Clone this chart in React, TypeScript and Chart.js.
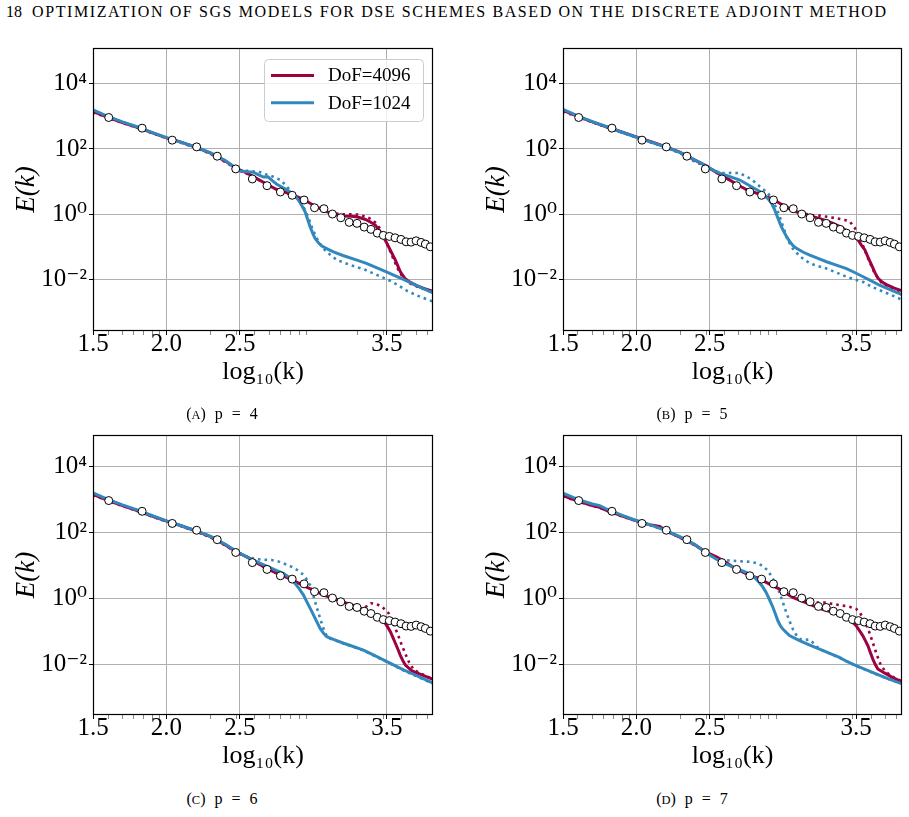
import React, { useEffect, useRef } from 'react';
import { Chart, registerables } from 'chart.js';

Chart.register(...registerables);

const SERIF = '"Liberation Serif", "DejaVu Serif", serif';
const RED = '#9e0142';
const BLUE = '#3288bd';
const GRID = '#b0b0b0';

// ---- axes -----------------------------------------------------------------
const X_MIN = 1.5;
const X_MAX = 3.813;
const X_MAJOR_TICKS = [1.5, 2.0, 2.5, 3.5];
const X_TICK_LABELS = ['1.5', '2.0', '2.5', '3.5'];
// minor ticks of the logarithmic wavenumber axis (k values)
const K_MINOR = [40, 50, 60, 70, 80, 90, 200, 300, 400, 500, 600, 700, 800, 900, 2000, 3000, 4000, 5000, 6000];
const Y_TICKS = [-2, 0, 2, 4];
const Y_TICK_LABELS = ['10⁻²', '10⁰', '10²', '10⁴'];
const Y_RANGE_TOP_ROW = [-3.57, 5.09];
const Y_RANGE_BOTTOM_ROW = [-3.535, 4.95];

const LEGEND_LABELS = ['DoF=4096', 'DoF=1024'];
const CAPTION_LETTERS = ['A', 'B', 'C', 'D'];
const POLY_ORDERS = [4, 5, 6, 7];

// ---- spectra: [log10(k), log10(E)] ----------------------------------------
const REF_SPECTRUM = [
  [1.607, 2.963], [1.834, 2.638], [2.039, 2.27], [2.205, 2.064], [2.345, 1.779], [2.471, 1.39],
  [2.584, 1.083], [2.684, 0.877], [2.775, 0.684], [2.855, 0.583], [2.936, 0.439], [3.007, 0.202],
  [3.071, 0.172], [3.129, 0.009], [3.186, -0.104], [3.243, -0.245], [3.296, -0.276], [3.345, -0.39],
  [3.391, -0.46], [3.434, -0.574], [3.475, -0.644], [3.516, -0.675], [3.555, -0.718], [3.595, -0.767],
  [3.63, -0.84], [3.664, -0.85], [3.698, -0.81], [3.732, -0.859], [3.761, -0.911], [3.795, -0.994],
];

// p = 4
const P4_DOF4096 = [
  [1.5, 3.15], [1.6, 2.97], [1.7, 2.81], [1.8, 2.66], [1.9, 2.5], [2.0, 2.34], [2.1, 2.21], [2.2, 2.05],
  [2.3, 1.87], [2.4, 1.63], [2.47, 1.42], [2.5, 1.35], [2.55, 1.26], [2.6, 1.13], [2.68, 0.93], [2.75, 0.76],
  [2.84, 0.63], [2.93, 0.46], [3.0, 0.28], [3.07, 0.11], [3.14, 0.0], [3.2, -0.05], [3.26, -0.06], [3.3, -0.08],
  [3.35, -0.15], [3.39, -0.24], [3.42, -0.33], [3.454, -0.53], [3.488, -0.79], [3.523, -1.1], [3.557, -1.4],
  [3.591, -1.76], [3.62, -1.95], [3.65, -2.06], [3.704, -2.19], [3.76, -2.28], [3.82, -2.37],
];
const P4_DOF4096_DOT = [
  [1.5, 3.12], [1.6, 2.96], [1.7, 2.8], [1.8, 2.65], [1.9, 2.49], [2.0, 2.33], [2.1, 2.19], [2.2, 2.04],
  [2.3, 1.85], [2.4, 1.6], [2.47, 1.41], [2.5, 1.33], [2.55, 1.24], [2.6, 1.12], [2.68, 0.92], [2.75, 0.76],
  [2.84, 0.62], [2.93, 0.45], [3.0, 0.28], [3.07, 0.12], [3.14, 0.03], [3.2, 0.0], [3.26, 0.0], [3.3, -0.01],
  [3.35, -0.06], [3.39, -0.14], [3.42, -0.25], [3.45, -0.42], [3.48, -0.7], [3.51, -1.0], [3.54, -1.33],
  [3.575, -1.68], [3.61, -1.95], [3.65, -2.1], [3.7, -2.2], [3.76, -2.3], [3.82, -2.4],
];
const P4_DOF1024 = [
  [1.5, 3.2], [1.6, 3.0], [1.7, 2.83], [1.8, 2.68], [1.9, 2.51], [2.0, 2.35], [2.1, 2.2], [2.2, 2.06],
  [2.3, 1.88], [2.4, 1.65], [2.47, 1.42], [2.5, 1.33], [2.55, 1.3], [2.59, 1.29], [2.63, 1.2], [2.66, 1.14],
  [2.69, 1.15], [2.72, 1.03], [2.75, 0.92], [2.8, 0.8], [2.84, 0.69], [2.87, 0.58], [2.897, 0.44], [2.92, 0.27],
  [2.943, 0.08], [2.96, -0.15], [2.977, -0.38], [2.995, -0.58], [3.011, -0.74], [3.035, -0.88], [3.057, -0.97],
  [3.1, -1.07], [3.136, -1.15], [3.2, -1.26], [3.296, -1.4], [3.36, -1.5], [3.432, -1.64], [3.5, -1.77],
  [3.545, -1.86], [3.6, -1.97], [3.659, -2.09], [3.74, -2.26], [3.82, -2.42],
];
const P4_DOF1024_DOT = [
  [1.5, 3.18], [1.6, 2.99], [1.7, 2.82], [1.8, 2.67], [1.9, 2.5], [2.0, 2.34], [2.1, 2.19], [2.2, 2.04],
  [2.3, 1.86], [2.4, 1.63], [2.47, 1.41], [2.52, 1.33], [2.56, 1.33], [2.6, 1.31], [2.627, 1.31], [2.66, 1.24],
  [2.707, 1.19], [2.74, 1.12], [2.775, 1.05], [2.81, 0.9], [2.843, 0.72], [2.88, 0.55], [2.911, 0.39],
  [2.935, 0.2], [2.957, -0.02], [2.975, -0.22], [2.99, -0.41], [3.012, -0.64], [3.036, -0.84], [3.07, -1.06],
  [3.116, -1.25], [3.161, -1.4], [3.25, -1.55], [3.343, -1.68], [3.434, -1.86], [3.525, -2.04], [3.58, -2.18],
  [3.639, -2.35], [3.73, -2.53], [3.82, -2.68],
];

// p = 5
const P5_DOF4096 = [
  [1.5, 3.18], [1.6, 3.0], [1.7, 2.83], [1.8, 2.67], [1.9, 2.52], [2.0, 2.37], [2.1, 2.22], [2.2, 2.07],
  [2.3, 1.9], [2.4, 1.66], [2.48, 1.48], [2.52, 1.36], [2.57, 1.22], [2.62, 1.1], [2.684, 0.92], [2.75, 0.76],
  [2.843, 0.61], [2.934, 0.46], [3.0, 0.28], [3.07, 0.11], [3.14, 0.01], [3.207, -0.07], [3.28, -0.17],
  [3.343, -0.28], [3.4, -0.4], [3.457, -0.58], [3.49, -0.7], [3.514, -0.79], [3.537, -0.95], [3.56, -1.09],
  [3.582, -1.32], [3.605, -1.55], [3.63, -1.8], [3.65, -1.96], [3.68, -2.08], [3.707, -2.15], [3.76, -2.26],
  [3.82, -2.35],
];
const P5_DOF4096_DOT = [
  [1.5, 3.15], [1.6, 2.98], [1.7, 2.82], [1.8, 2.66], [1.9, 2.51], [2.0, 2.36], [2.1, 2.21], [2.2, 2.06],
  [2.3, 1.88], [2.4, 1.62], [2.48, 1.46], [2.52, 1.35], [2.57, 1.21], [2.62, 1.09], [2.684, 0.91], [2.75, 0.76],
  [2.843, 0.62], [2.934, 0.46], [3.0, 0.29], [3.07, 0.12], [3.14, 0.03], [3.2, -0.02], [3.252, -0.04],
  [3.31, -0.08], [3.366, -0.12], [3.42, -0.17], [3.457, -0.22], [3.49, -0.41], [3.536, -0.84], [3.582, -1.35],
  [3.627, -1.81], [3.673, -2.09], [3.74, -2.26], [3.82, -2.39],
];
const P5_DOF1024 = [
  [1.5, 3.21], [1.6, 3.01], [1.7, 2.84], [1.8, 2.68], [1.9, 2.52], [2.0, 2.36], [2.1, 2.21], [2.2, 2.06],
  [2.3, 1.89], [2.4, 1.66], [2.48, 1.48], [2.52, 1.36], [2.57, 1.26], [2.639, 1.155], [2.707, 1.05],
  [2.78, 0.86], [2.843, 0.7], [2.9, 0.47], [2.925, 0.32], [2.945, 0.13], [2.965, -0.1], [2.99, -0.38],
  [3.02, -0.64], [3.048, -0.84], [3.07, -0.96], [3.093, -1.04], [3.14, -1.16], [3.184, -1.25], [3.24, -1.35],
  [3.298, -1.45], [3.37, -1.56], [3.434, -1.66], [3.49, -1.78], [3.548, -1.91], [3.6, -2.03], [3.66, -2.17],
  [3.74, -2.32], [3.82, -2.47],
];
const P5_DOF1024_DOT = [
  [1.5, 3.19], [1.6, 3.0], [1.7, 2.83], [1.8, 2.67], [1.9, 2.51], [2.0, 2.35], [2.1, 2.2], [2.2, 2.05],
  [2.3, 1.87], [2.4, 1.62], [2.48, 1.46], [2.52, 1.35], [2.57, 1.27], [2.616, 1.26], [2.66, 1.27],
  [2.707, 1.26], [2.74, 1.18], [2.775, 1.1], [2.81, 0.98], [2.843, 0.85], [2.87, 0.75], [2.9, 0.64],
  [2.93, 0.42], [2.957, 0.18], [2.975, -0.02], [2.99, -0.22], [3.008, -0.46], [3.025, -0.69], [3.048, -0.9],
  [3.07, -1.06], [3.12, -1.3], [3.184, -1.5], [3.24, -1.58], [3.298, -1.66], [3.37, -1.79], [3.434, -1.91],
  [3.49, -1.99], [3.548, -2.07], [3.6, -2.2], [3.66, -2.32], [3.74, -2.47], [3.82, -2.63],
];

// p = 6
const P6_DOF4096 = [
  [1.5, 3.15], [1.6, 2.97], [1.7, 2.81], [1.8, 2.66], [1.9, 2.49], [2.0, 2.34], [2.1, 2.2], [2.2, 2.04],
  [2.3, 1.87], [2.4, 1.62], [2.48, 1.4], [2.55, 1.25], [2.6, 1.12], [2.68, 0.91], [2.76, 0.74], [2.84, 0.59],
  [2.95, 0.35], [3.07, 0.1], [3.18, -0.08], [3.295, -0.25], [3.386, -0.45], [3.455, -0.63], [3.489, -0.76],
  [3.506, -0.88], [3.523, -1.01], [3.54, -1.18], [3.557, -1.36], [3.575, -1.55], [3.59, -1.72], [3.607, -1.88],
  [3.625, -2.02], [3.67, -2.2], [3.75, -2.34], [3.82, -2.47],
];
const P6_DOF4096_DOT = [
  [1.5, 3.13], [1.6, 2.96], [1.7, 2.8], [1.8, 2.65], [1.9, 2.48], [2.0, 2.33], [2.1, 2.19], [2.2, 2.03],
  [2.3, 1.85], [2.4, 1.6], [2.48, 1.39], [2.55, 1.24], [2.6, 1.11], [2.68, 0.9], [2.76, 0.74], [2.84, 0.6],
  [2.95, 0.36], [3.07, 0.11], [3.18, -0.07], [3.3, -0.25], [3.34, -0.33], [3.37, -0.2], [3.39, -0.15],
  [3.43, -0.17], [3.477, -0.3], [3.511, -0.45], [3.535, -0.65], [3.557, -0.91], [3.58, -1.17], [3.6, -1.41],
  [3.625, -1.68], [3.648, -1.92], [3.682, -2.17], [3.75, -2.32], [3.82, -2.47],
];
const P6_DOF1024 = [
  [1.5, 3.2], [1.6, 3.0], [1.7, 2.83], [1.8, 2.68], [1.9, 2.51], [2.0, 2.35], [2.1, 2.2], [2.2, 2.05],
  [2.3, 1.88], [2.4, 1.64], [2.48, 1.41], [2.55, 1.24], [2.59, 1.16], [2.65, 1.04], [2.705, 0.93],
  [2.75, 0.84], [2.795, 0.76], [2.83, 0.65], [2.864, 0.51], [2.9, 0.31], [2.932, 0.1], [2.96, -0.15],
  [2.989, -0.4], [3.017, -0.66], [3.045, -0.91], [3.07, -1.07], [3.09, -1.16], [3.14, -1.25], [3.205, -1.36],
  [3.27, -1.46], [3.34, -1.57], [3.4, -1.7], [3.455, -1.82], [3.51, -1.94], [3.568, -2.07], [3.62, -2.18],
  [3.68, -2.3], [3.75, -2.44], [3.82, -2.58],
];
const P6_DOF1024_DOT = [
  [1.5, 3.18], [1.6, 2.99], [1.7, 2.82], [1.8, 2.67], [1.9, 2.5], [2.0, 2.34], [2.1, 2.19], [2.2, 2.04],
  [2.3, 1.86], [2.4, 1.62], [2.48, 1.4], [2.55, 1.25], [2.614, 1.19], [2.66, 1.17], [2.716, 1.16],
  [2.76, 1.12], [2.795, 1.06], [2.83, 1.0], [2.864, 0.93], [2.9, 0.83], [2.932, 0.71], [2.955, 0.57],
  [2.977, 0.4], [2.995, 0.15], [3.011, -0.1], [3.028, -0.36], [3.045, -0.61], [3.063, -0.85], [3.08, -1.06],
  [3.102, -1.21], [3.15, -1.28], [3.205, -1.37], [3.27, -1.47], [3.34, -1.58], [3.4, -1.71], [3.455, -1.83],
  [3.51, -1.95], [3.568, -2.08], [3.62, -2.2], [3.68, -2.32], [3.75, -2.46], [3.82, -2.6],
];

// p = 7
const P7_DOF4096 = [
  [1.5, 3.11], [1.6, 2.95], [1.7, 2.81], [1.75, 2.76], [1.8, 2.66], [1.9, 2.5], [2.0, 2.35], [2.1, 2.22],
  [2.16, 2.18], [2.2, 2.05], [2.3, 1.85], [2.4, 1.62], [2.48, 1.39], [2.55, 1.25], [2.6, 1.12], [2.68, 0.89],
  [2.76, 0.73], [2.84, 0.59], [2.91, 0.43], [2.977, 0.28], [3.068, 0.03], [3.14, -0.1], [3.205, -0.22],
  [3.27, -0.33], [3.34, -0.42], [3.4, -0.52], [3.455, -0.63], [3.5, -0.83], [3.523, -0.98], [3.545, -1.13],
  [3.563, -1.28], [3.58, -1.43], [3.597, -1.64], [3.614, -1.84], [3.63, -2.0], [3.648, -2.14], [3.693, -2.26],
  [3.75, -2.4], [3.82, -2.55],
];
const P7_DOF4096_DOT = [
  [1.5, 3.1], [1.6, 2.94], [1.7, 2.8], [1.75, 2.75], [1.8, 2.65], [1.9, 2.49], [2.0, 2.34], [2.1, 2.21],
  [2.16, 2.17], [2.2, 2.04], [2.3, 1.84], [2.4, 1.61], [2.48, 1.38], [2.55, 1.24], [2.6, 1.11], [2.68, 0.89],
  [2.76, 0.74], [2.84, 0.6], [2.91, 0.44], [2.977, 0.29], [3.068, 0.04], [3.14, -0.07], [3.205, -0.13],
  [3.273, -0.12], [3.34, -0.17], [3.41, -0.22], [3.46, -0.26], [3.5, -0.32], [3.525, -0.43], [3.545, -0.58],
  [3.568, -0.8], [3.59, -1.03], [3.613, -1.33], [3.636, -1.64], [3.653, -1.85], [3.67, -2.04], [3.705, -2.24],
  [3.76, -2.4], [3.82, -2.53],
];
const P7_DOF1024 = [
  [1.5, 3.19], [1.6, 3.0], [1.7, 2.86], [1.75, 2.81], [1.8, 2.7], [1.9, 2.52], [2.0, 2.36], [2.1, 2.22],
  [2.2, 2.06], [2.3, 1.86], [2.4, 1.63], [2.48, 1.37], [2.55, 1.18], [2.614, 1.04], [2.68, 0.91],
  [2.75, 0.79], [2.8, 0.66], [2.84, 0.48], [2.864, 0.34], [2.886, 0.18], [2.91, -0.05], [2.932, -0.27],
  [2.95, -0.48], [2.966, -0.68], [2.983, -0.83], [3.0, -0.93], [3.045, -1.13], [3.114, -1.28], [3.18, -1.41],
  [3.25, -1.54], [3.32, -1.67], [3.386, -1.79], [3.44, -1.92], [3.5, -2.04], [3.57, -2.17], [3.636, -2.29],
  [3.72, -2.44], [3.82, -2.6],
];
const P7_DOF1024_DOT = [
  [1.5, 3.17], [1.6, 2.99], [1.7, 2.85], [1.75, 2.8], [1.8, 2.69], [1.9, 2.51], [2.0, 2.35], [2.1, 2.21],
  [2.2, 2.05], [2.3, 1.85], [2.4, 1.62], [2.48, 1.38], [2.52, 1.25], [2.568, 1.19], [2.62, 1.15], [2.66, 1.14],
  [2.72, 1.12], [2.773, 1.11], [2.81, 1.08], [2.84, 1.04], [2.87, 0.95], [2.898, 0.84], [2.915, 0.72],
  [2.932, 0.59], [2.955, 0.4], [2.977, 0.18], [3.0, -0.12], [3.023, -0.42], [3.045, -0.68], [3.068, -0.93],
  [3.09, -1.1], [3.114, -1.23], [3.15, -1.26], [3.18, -1.25], [3.21, -1.36], [3.25, -1.54], [3.32, -1.67],
  [3.386, -1.8], [3.5, -2.05], [3.636, -2.3], [3.82, -2.61],
];

const HIGH_RES = [P4_DOF4096, P5_DOF4096, P6_DOF4096, P7_DOF4096];
const HIGH_RES_DOT = [P4_DOF4096_DOT, P5_DOF4096_DOT, P6_DOF4096_DOT, P7_DOF4096_DOT];
const LOW_RES = [P4_DOF1024, P5_DOF1024, P6_DOF1024, P7_DOF1024];
const LOW_RES_DOT = [P4_DOF1024_DOT, P5_DOF1024_DOT, P6_DOF1024_DOT, P7_DOF1024_DOT];

// ---- page placement of the four panels -----------------------------------
const PANEL_BOXES = [
  { left: 0, top: 30, width: 450, height: 370, pad: { top: 18, right: 17, bottom: 15, left: 0 } },
  { left: 470, top: 30, width: 439, height: 370, pad: { top: 18, right: 7, bottom: 15, left: 0 } },
  { left: 0, top: 415, width: 450, height: 370, pad: { top: 20, right: 17, bottom: 16, left: 0 } },
  { left: 470, top: 415, width: 439, height: 370, pad: { top: 20, right: 7, bottom: 16, left: 0 } },
];
const CAPTION_POS = [
  { cx: 222, top: 406 },
  { cx: 692, top: 406 },
  { cx: 222, top: 791 },
  { cx: 692, top: 791 },
];

const toPoints = (arr: number[][]) => arr.map(([x, y]) => ({ x, y }));
const isMajorX = (v: number) => X_MAJOR_TICKS.indexOf(v) >= 0;

const framePlugin = {
  id: 'axesFrame',
  afterDatasetsDraw(chart: any) {
    const { ctx, chartArea } = chart;
    const { left, top, right, bottom } = chartArea;
    ctx.save();
    ctx.strokeStyle = '#000';
    ctx.lineWidth = 1.2;
    ctx.strokeRect(left + 0.5, top + 0.5, right - left - 1, bottom - top - 1);
    ctx.restore();
  },
};

function makeLegendPlugin(show: boolean) {
  return {
    id: 'cornerLegend',
    afterDraw(chart: any) {
      if (!show) return;
      const { ctx, chartArea } = chart;
      const w = 159;
      const h = 62;
      const x0 = chartArea.right - 10 - w;
      const y0 = chartArea.top + 11;
      ctx.save();
      ctx.beginPath();
      ctx.roundRect(x0 + 0.5, y0 + 0.5, w, h, 4);
      ctx.fillStyle = 'rgba(255,255,255,0.8)';
      ctx.fill();
      ctx.strokeStyle = '#cccccc';
      ctx.lineWidth = 1;
      ctx.stroke();
      const colors = [RED, BLUE];
      LEGEND_LABELS.forEach((label, i) => {
        const yy = y0 + 16.5 + i * 27.3;
        ctx.beginPath();
        ctx.moveTo(x0 + 7, yy);
        ctx.lineTo(x0 + 50, yy);
        ctx.strokeStyle = colors[i];
        ctx.lineWidth = 3;
        ctx.stroke();
        ctx.fillStyle = '#000';
        ctx.font = `19px ${SERIF}`;
        ctx.textBaseline = 'middle';
        ctx.textAlign = 'left';
        ctx.fillText(label, x0 + 64, yy + 1);
      });
      ctx.restore();
    },
  };
}

function SpectrumPanel({ index }: { index: number }) {
  const canvasRef = useRef<HTMLCanvasElement>(null);
  const box = PANEL_BOXES[index];
  const yRange = index < 2 ? Y_RANGE_TOP_ROW : Y_RANGE_BOTTOM_ROW;

  useEffect(() => {
    const xTicks = [...X_MAJOR_TICKS, ...K_MINOR.map((k) => Math.log10(k))].sort((a, b) => a - b);
    const lineBase = { pointRadius: 0, pointHoverRadius: 0, tension: 0, fill: false, clip: 0 };
    const chart = new Chart(canvasRef.current as HTMLCanvasElement, {
      type: 'line',
      data: {
        datasets: [
          {
            label: 'reference',
            data: toPoints(REF_SPECTRUM),
            showLine: false,
            pointRadius: 4,
            pointBackgroundColor: '#ffffff',
            pointBorderColor: '#000000',
            pointBorderWidth: 1,
            clip: 0,
            order: 0,
          },
          { ...lineBase, label: 'DoF=1024', data: toPoints(LOW_RES[index]), borderColor: BLUE, borderWidth: 3, order: 1 },
          { ...lineBase, label: 'DoF=4096', data: toPoints(HIGH_RES[index]), borderColor: RED, borderWidth: 3, order: 2 },
          {
            ...lineBase, label: 'DoF=1024 (dotted)', data: toPoints(LOW_RES_DOT[index]), borderColor: BLUE,
            borderWidth: 2.6, borderDash: [2.6, 4], order: 3,
          },
          {
            ...lineBase, label: 'DoF=4096 (dotted)', data: toPoints(HIGH_RES_DOT[index]), borderColor: RED,
            borderWidth: 2.6, borderDash: [2.6, 4], order: 4,
          },
        ] as any,
      },
      options: {
        responsive: false,
        animation: false,
        devicePixelRatio: 1,
        layout: { padding: box.pad },
        plugins: { legend: { display: false }, tooltip: { enabled: false } },
        scales: {
          x: {
            type: 'linear',
            min: X_MIN,
            max: X_MAX,
            bounds: 'data',
            afterBuildTicks: (s: any) => {
              s.ticks = xTicks.map((v) => ({ value: v }));
            },
            afterFit: (s: any) => {
              s.height = 54;
            },
            ticks: {
              autoSkip: false,
              maxRotation: 0,
              minRotation: 0,
              padding: -3,
              color: '#000',
              font: { family: SERIF, size: 25, lineHeight: 1 },
              callback: (v: any) => {
                const i = X_MAJOR_TICKS.indexOf(v);
                return i >= 0 ? X_TICK_LABELS[i] : '';
              },
            },
            grid: {
              color: (c: any) => (c.tick && isMajorX(c.tick.value) ? GRID : 'rgba(0,0,0,0)'),
              lineWidth: 1,
              tickLength: 4,
              tickColor: (c: any) => (c.tick && isMajorX(c.tick.value) ? '#000' : '#555'),
              tickWidth: (c: any) => (c.tick && isMajorX(c.tick.value) ? 1 : 0.7),
            },
            border: { display: false },
            title: {
              display: true,
              text: 'log₁₀(k)',
              color: '#000',
              font: { family: SERIF, size: 26, lineHeight: 1 },
              padding: 0,
            },
          },
          y: {
            type: 'linear',
            min: yRange[0],
            max: yRange[1],
            bounds: 'data',
            afterBuildTicks: (s: any) => {
              s.ticks = Y_TICKS.map((v) => ({ value: v }));
            },
            afterFit: (s: any) => {
              s.width = 93;
            },
            ticks: {
              padding: 2,
              color: '#000',
              font: { family: SERIF, size: 25, lineHeight: 1 },
              callback: (v: any) => Y_TICK_LABELS[Y_TICKS.indexOf(v)] ?? '',
            },
            grid: { color: GRID, lineWidth: 1, tickLength: 4, tickColor: '#000' },
            border: { display: false },
            title: {
              display: true,
              text: 'E(k)',
              color: '#000',
              font: { family: SERIF, size: 27, style: 'italic', lineHeight: 1 },
              padding: { top: 13.5, bottom: 0 },
            },
          },
        },
      } as any,
      plugins: [framePlugin, makeLegendPlugin(index === 0)],
    });
    return () => chart.destroy();
  }, [index]);

  return (
    <div style={{ position: 'absolute', left: box.left, top: box.top, width: box.width, height: box.height }}>
      <canvas ref={canvasRef} width={box.width} height={box.height} style={{ width: box.width, height: box.height, display: 'block' }} />
    </div>
  );
}

function Caption({ index }: { index: number }) {
  const pos = CAPTION_POS[index];
  return (
    <div
      style={{
        position: 'absolute',
        left: pos.cx - 100,
        top: pos.top,
        width: 200,
        textAlign: 'center',
        fontFamily: SERIF,
        fontSize: 16,
        lineHeight: '16px',
        color: '#000',
        wordSpacing: 5,
        whiteSpace: 'nowrap',
      }}
    >
      (<span style={{ fontSize: 12.5 }}>{CAPTION_LETTERS[index]}</span>) p = {POLY_ORDERS[index]}
    </div>
  );
}

export default function App() {
  return (
    <div style={{ position: 'absolute', left: 0, top: 0, width: 909, height: 817, background: '#fff', overflow: 'hidden' }}>
      <div style={{ position: 'absolute', left: 6, top: 4, fontFamily: SERIF, fontSize: 16, lineHeight: '16px', color: '#000' }}>18</div>
      <div
        style={{
          position: 'absolute',
          left: 32,
          top: 4,
          fontFamily: SERIF,
          fontSize: 16,
          lineHeight: '16px',
          letterSpacing: 1.6,
          color: '#000',
          whiteSpace: 'nowrap',
        }}
      >
        OPTIMIZATION OF SGS MODELS FOR DSE SCHEMES BASED ON THE DISCRETE ADJOINT METHOD
      </div>
      {[0, 1, 2, 3].map((i) => (
        <SpectrumPanel key={`p${i}`} index={i} />
      ))}
      {[0, 1, 2, 3].map((i) => (
        <Caption key={`c${i}`} index={i} />
      ))}
    </div>
  );
}
